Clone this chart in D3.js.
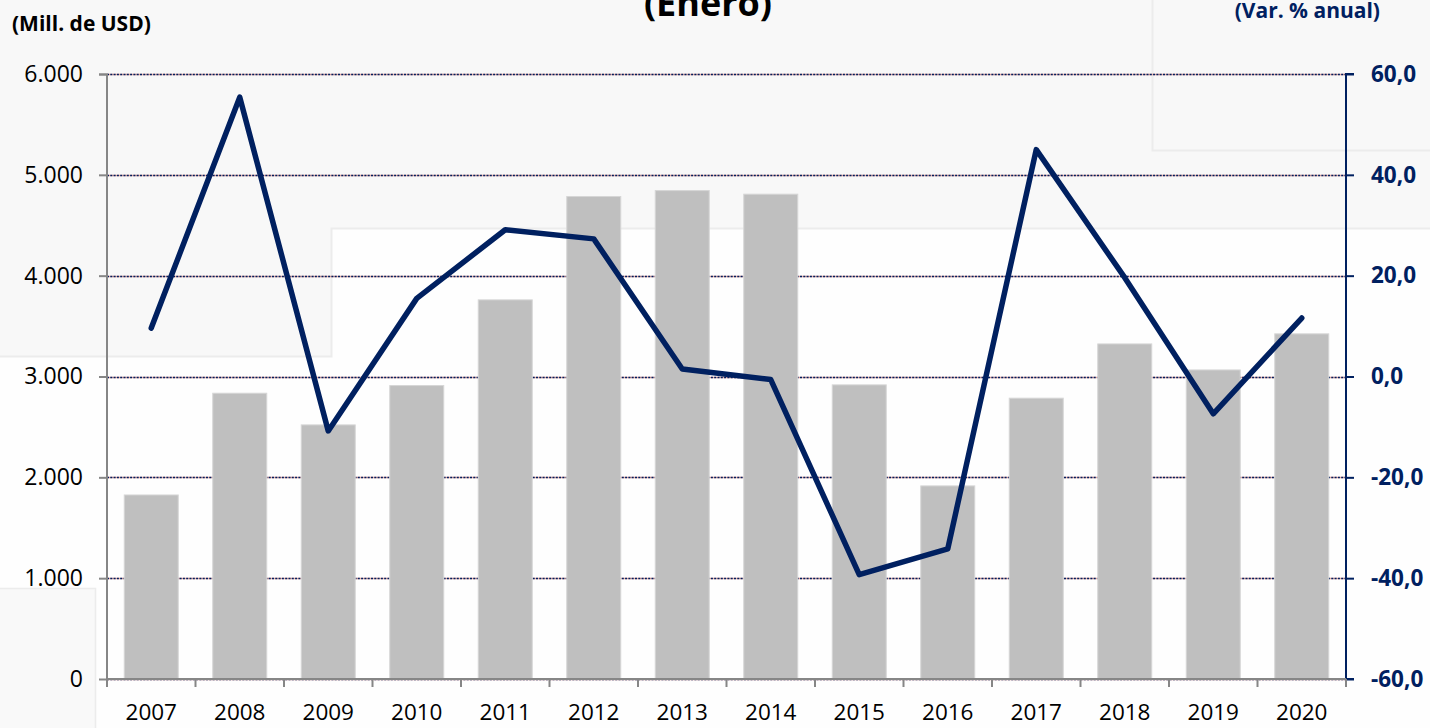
<!DOCTYPE html>
<html><head><meta charset="utf-8">
<script src="https://cdn.jsdelivr.net/npm/d3@7/dist/d3.min.js"></script>
<style>html,body{margin:0;padding:0;background:#fafafa;overflow:hidden}svg{display:block}</style>
</head><body>
<script>
const years = ["2007","2008","2009","2010","2011","2012","2013","2014","2015","2016","2017","2018","2019","2020"];
const exportsUSD = [1825,2834,2520,2910,3760,4785,4844,4808,2917,1915,2785,3323,3065,3423];
const varPct = [9.6,55.4,-10.8,15.5,29.1,27.3,1.5,-0.6,-39.3,-34.2,45.0,19.6,-7.4,11.6];
const leftTicks = [0,1000,2000,3000,4000,5000,6000];
const rightTicks = [-60,-40,-20,0,20,40,60];

const W=1430,H=728;
const svg=d3.select("body").append("svg").attr("width",W).attr("height",H);
const FONT="'Open Sans', 'Liberation Sans', sans-serif";
const NAVY="#002060";

// background ghost panels
svg.append("rect").attr("x",0).attr("y",0).attr("width",W).attr("height",H).attr("fill","#f8f8f8");
svg.append("path").attr("d",`M331,228 H${W} V${H} H0 V356 H331 Z`).attr("fill","#fefefe");
svg.append("path").attr("d",`M0,356.5 H331.5 V228.5 H${W}`).attr("fill","none").attr("stroke","#ececec").attr("stroke-width",2);
svg.append("path").attr("d",`M1152.5,0 V150.5 H${W}`).attr("fill","none").attr("stroke","#ececec").attr("stroke-width",2);
svg.append("rect").attr("x",0).attr("y",588).attr("width",95).attr("height",H-588).attr("fill","#f9f9f9");
svg.append("path").attr("d",`M0,588.5 H95.5 V${H}`).attr("fill","none").attr("stroke","#ececec").attr("stroke-width",1.5);

const x0=107,x1=1346,yTop=74,yBot=679;
const x=d3.scaleBand().domain(years).range([x0,x1]).paddingInner(0.39).paddingOuter(0.195);
const yL=d3.scaleLinear().domain([0,6000]).range([yBot,yTop]);
const yR=d3.scaleLinear().domain([-60,60]).range([yBot,yTop]);

// gridlines (dotted navy over pink)
const grid=svg.append("g");
leftTicks.forEach(t=>{
  const yy=Math.round(yL(t))+0.5;
  grid.append("line").attr("x1",x0).attr("x2",x1).attr("y1",yy).attr("y2",yy).attr("stroke","#e6a49c").attr("stroke-width",1.3);
  grid.append("line").attr("x1",x0).attr("x2",x1).attr("y1",yy).attr("y2",yy).attr("stroke",NAVY).attr("stroke-width",1.3).attr("stroke-dasharray","2,1.3");
});

// bars
svg.append("g").selectAll("rect").data(years).join("rect")
  .attr("x",d=>x(d)).attr("width",x.bandwidth())
  .attr("y",(d,i)=>yL(exportsUSD[i])).attr("height",(d,i)=>yBot-yL(exportsUSD[i]))
  .attr("fill","#bfbfbf").attr("stroke","#d6d6d6").attr("stroke-width",1);

// left axis
const gL=svg.append("g").attr("transform",`translate(${x0},0)`)
  .call(d3.axisLeft(yL).tickValues(leftTicks).tickSize(8).tickPadding(16)
  .tickFormat(d=>d3.format(",")(d).replace(/,/g,".")));
gL.select(".domain").attr("stroke","#868686").attr("stroke-width",2).attr("d",`M-8,${yTop+0.5}H0V${yBot+8}`);
gL.selectAll(".tick line").attr("stroke","#868686").attr("stroke-width",2);
gL.selectAll("text").attr("font-family",FONT).attr("font-size",23).attr("fill","#000");

// right axis
const gR=svg.append("g").attr("transform",`translate(${x1},0)`)
  .call(d3.axisRight(yR).tickValues(rightTicks).tickSize(8).tickPadding(17)
  .tickFormat(d=>d3.format(".1f")(d).replace(".",",").replace("\u2212","-")));
gR.select(".domain").attr("stroke",NAVY).attr("stroke-width",2).attr("d",`M8,${yTop}H0V${yBot}H8`);
gR.selectAll(".tick line").attr("stroke",NAVY).attr("stroke-width",2);
gR.selectAll("text").attr("font-family",FONT).attr("font-size",22.5).attr("font-weight","bold").attr("fill",NAVY);

// bottom axis
const gB=svg.append("g").attr("transform",`translate(0,${yBot})`)
  .call(d3.axisBottom(x).tickSize(0).tickPadding(25));
gB.select(".domain").attr("stroke","#868686").attr("stroke-width",2).attr("d",`M${x0},0H${x1}`);
gB.selectAll("text").attr("font-family",FONT).attr("font-size",22.5).attr("fill","#000");
gB.append("g").selectAll("line").data(d3.range(years.length+1)).join("line")
  .attr("x1",i=>x0+i*(x1-x0)/years.length).attr("x2",i=>x0+i*(x1-x0)/years.length)
  .attr("y1",0).attr("y2",8).attr("stroke","#868686").attr("stroke-width",2);

// line
const line=d3.line().x((d,i)=>x(years[i])+x.bandwidth()/2).y(d=>yR(d));
svg.append("path").datum(varPct).attr("d",line).attr("fill","none")
  .attr("stroke",NAVY).attr("stroke-width",5.5).attr("stroke-linejoin","round").attr("stroke-linecap","round");

// titles
svg.append("text").attr("x",708).attr("y",16).attr("text-anchor","middle")
  .attr("font-family",FONT).attr("font-size",36).attr("font-weight","bold").attr("fill","#000").text("(Enero)");
svg.append("text").attr("x",12).attr("y",31)
  .attr("font-family",FONT).attr("font-size",21).attr("font-weight","bold").attr("fill","#000").text("(Mill. de USD)");
svg.append("text").attr("x",1380).attr("y",18).attr("text-anchor","end")
  .attr("font-family",FONT).attr("font-size",21).attr("font-weight","bold").attr("fill",NAVY).text("(Var. % anual)");
</script>
</body></html>
